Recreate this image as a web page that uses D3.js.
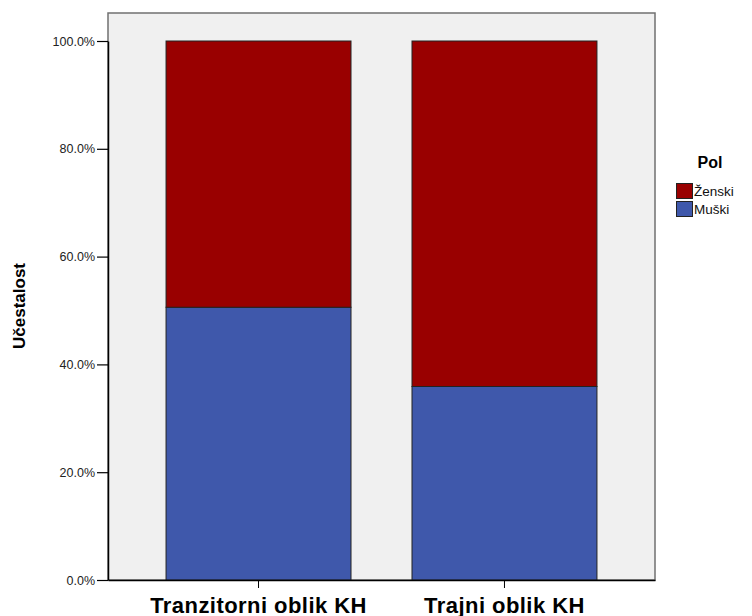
<!DOCTYPE html>
<html><head><meta charset="utf-8">
<script src="https://cdn.jsdelivr.net/npm/d3@7"></script>
<style>body{margin:0;background:#fff;}svg{display:block;font-family:Arial,"Liberation Sans",sans-serif;}</style>
</head><body><svg id="c" width="752" height="616"></svg>
<script>
const categories = ["Tranzitorni oblik KH", "Trajni oblik KH"];
const series = ["Muški", "Ženski"];
const muski = [50.6, 35.9];
const zenski = [49.4, 64.1];
const yTicks = [0, 20, 40, 60, 80, 100];
const colors = {"Muški": "#3f58ab", "Ženski": "#990000"};

const svg = d3.select("#c");
const L = 108, R = 655, T = 13, B = 580;
svg.append("rect").attr("x", L).attr("y", T).attr("width", R - L).attr("height", B - T)
  .attr("fill", "#f0f0f0").attr("stroke", "#707070").attr("stroke-width", 1.5);

const x = d3.scaleBand().domain(categories).range([L, R]).paddingInner(0.248).paddingOuter(0.236);
const y = d3.scaleLinear().domain([0, 100]).range([B, 41]);

const rows = categories.map((c, i) => ({cat: c, "Muški": muski[i], "Ženski": zenski[i]}));
const stacked = d3.stack().keys(series)(rows);
svg.append("g").selectAll("g").data(stacked).join("g").attr("fill", d => colors[d.key])
  .selectAll("rect").data(d => d).join("rect")
  .attr("x", d => x(d.data.cat)).attr("width", x.bandwidth())
  .attr("y", d => y(d[1])).attr("height", d => y(d[0]) - y(d[1]))
  .attr("stroke", "#222").attr("stroke-width", 1);

const ya = svg.append("g").attr("transform", `translate(${L},0)`)
  .call(d3.axisLeft(y).tickValues(yTicks).tickSize(11).tickSizeOuter(0).tickFormat(d => d.toFixed(1) + "%"));
ya.select(".domain").attr("stroke", "#000").attr("stroke-width", 1.5);
ya.selectAll(".tick line").attr("stroke", "#000").attr("stroke-width", 1.2);
ya.selectAll(".tick text").attr("font-size", 12.5).attr("fill", "#222").attr("x", -13)
  .attr("font-family", "Arial, 'Liberation Sans', sans-serif");

const xa = svg.append("g").attr("transform", `translate(0,${B})`)
  .call(d3.axisBottom(x).tickSize(8).tickSizeOuter(0));
xa.select(".domain").attr("stroke", "#000").attr("stroke-width", 1.5);
xa.selectAll(".tick line").attr("stroke", "#000");
xa.selectAll(".tick text").attr("font-size", 22).attr("font-weight", "bold").attr("fill", "#000")
  .attr("letter-spacing", 0.45).attr("dy", 0).attr("y", 33)
  .attr("font-family", "Arial, 'Liberation Sans', sans-serif");

svg.append("text").attr("transform", "translate(25,306) rotate(-90)").attr("text-anchor", "middle")
  .attr("font-size", 17).attr("font-weight", "bold").text("Učestalost");

const lg = svg.append("g");
lg.append("text").attr("x", 710).attr("y", 168).attr("text-anchor", "middle")
  .attr("font-size", 16).attr("font-weight", "bold").text("Pol");
const legendKeys = ["Ženski", "Muški"];
legendKeys.forEach((k, i) => {
  lg.append("rect").attr("x", 676.5).attr("y", 183.5 + i * 18).attr("width", 16).attr("height", 15)
    .attr("fill", colors[k]).attr("stroke", "#222").attr("stroke-width", 1);
  lg.append("text").attr("x", 694).attr("y", 196 + i * 18).attr("font-size", 13.5).attr("fill", "#111").text(k);
});
</script></body></html>
